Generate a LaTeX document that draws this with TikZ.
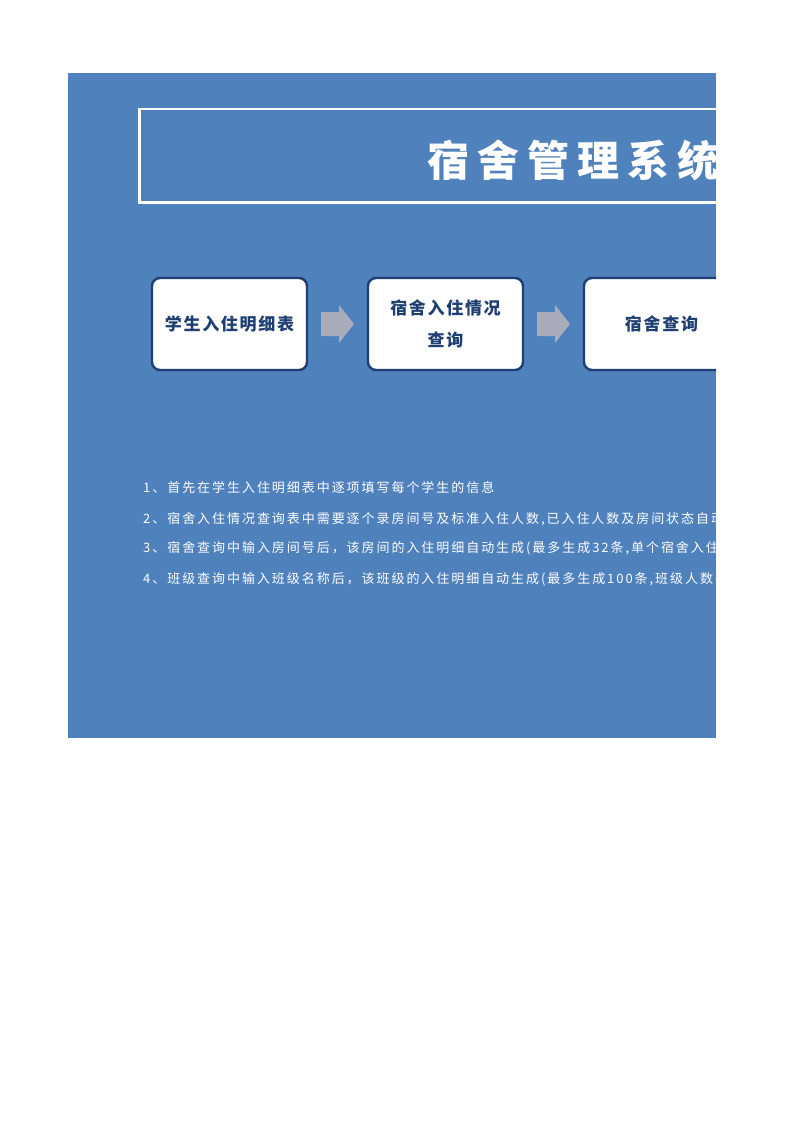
\documentclass[tikz,border=0pt]{standalone}
\usepackage{fontspec}
\usetikzlibrary{positioning, calc}
\newfontfamily\titlefont[LetterSpace=19]{Noto Sans CJK SC}
\newfontfamily\boxfont[LetterSpace=10]{Noto Sans CJK SC}
\newfontfamily\notefont[LetterSpace=15]{Noto Sans CJK SC}
\definecolor{panelblue}{HTML}{4F81BD}
\definecolor{boxline}{HTML}{1F3F73}
\definecolor{boxtext}{HTML}{1F3F73}
\definecolor{arrowgray}{HTML}{A7ABBA}
\tikzset{
  stepbox/.style={rectangle, rounded corners=8pt, minimum width=155pt, minimum height=92pt, draw=boxline, line width=2.4pt, fill=white, text=boxtext, align=center, font=\boxfont\bfseries\fontsize{17}{32}\selectfont},
  note/.style={anchor=west, inner sep=0pt, text=white, font=\notefont\fontsize{13}{15}\selectfont},
  flowarrow/.style={fill=arrowgray}
}
\begin{document}
\begin{tikzpicture}[x=1pt, y=-1pt]
\useasboundingbox (0,0) rectangle (793,1122);
\fill[panelblue] (68,73) rectangle (716,738);
\begin{scope}
\clip (68,73) rectangle (716,738);
% title
\draw[white, line width=2.5pt] (139.5,109) rectangle (780,202.5);
\node (title) [anchor=west, inner sep=0pt, text=white, font=\titlefont\bfseries\fontsize{42}{46}\selectfont] at (427,160) {宿舍管理系统};
% flow
\node (stu) [stepbox] at (229.5,324) {学生入住明细表};
\node (room) [stepbox, right=58.6pt of stu] {宿舍入住情况\\查询};
\node (query) [stepbox, right=58.6pt of room] {宿舍查询};
\foreach \a/\b in {stu/room, room/query}
  \fill[flowarrow] ($(\a.east)!0.5!(\b.west)+(0,0)$) ++(-16.5,-12) -- ++(18,0) -- ++(0,-7) -- ++(15,19) -- ++(-15,19) -- ++(0,-7) -- ++(-18,0) -- cycle;
% notes
\node (note1) [note] at (143,488) {1、首先在学生入住明细表中逐项填写每个学生的信息};
\node (note2) [note] at (143,519) {2、宿舍入住情况查询表中需要逐个录房间号及标准入住人数,已入住人数及房间状态自动};
\node (note3) [note] at (143,548) {3、宿舍查询中输入房间号后，该房间的入住明细自动生成(最多生成32条,单个宿舍入住人};
\node (note4) [note] at (143,579) {4、班级查询中输入班级名称后，该班级的入住明细自动生成(最多生成100条,班级人数要};
\end{scope}
\end{tikzpicture}
\end{document}
